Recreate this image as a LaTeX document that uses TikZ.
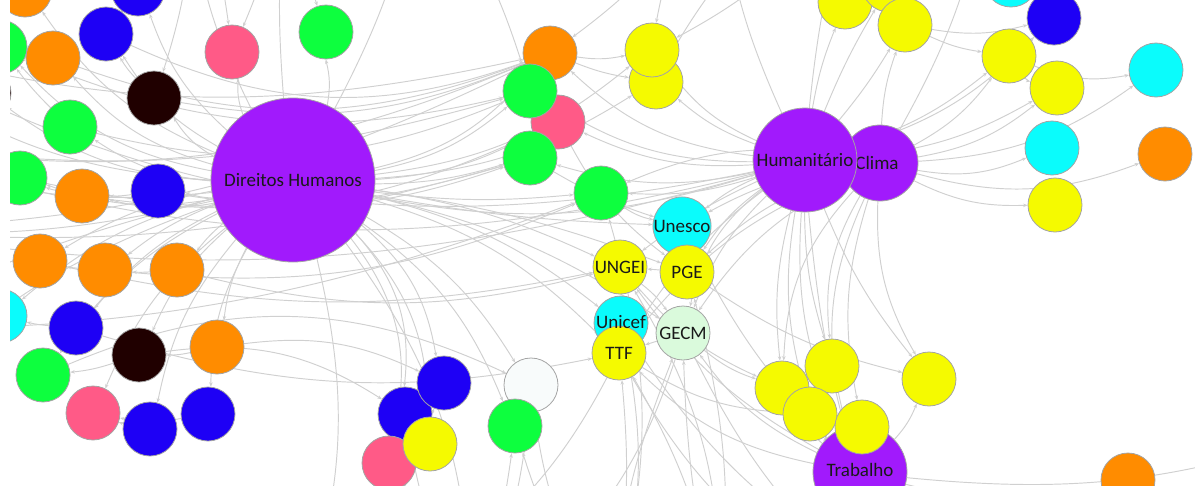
\documentclass[tikz,border=0pt]{standalone}
\usepackage{fontspec}
\setmainfont{Carlito}
\usetikzlibrary{arrows.meta,backgrounds}

\definecolor{hubpurple}{HTML}{A11AFC}
\definecolor{cOrange}{HTML}{FF8C00}
\definecolor{cGreen}{HTML}{0DFF3E}
\definecolor{cBlue}{HTML}{1E00F5}
\definecolor{cPink}{HTML}{FF5A87}
\definecolor{cBlack}{HTML}{200000}
\definecolor{cCyan}{HTML}{0AFCFC}
\definecolor{cYellow}{HTML}{F5FA00}
\definecolor{cMint}{HTML}{DAFADC}
\definecolor{cWhite}{HTML}{F8FBFB}
\definecolor{linkgray}{HTML}{D0D0D0}
\definecolor{rimgray}{HTML}{A4A4A4}

\tikzset{
  dot/.style={circle, draw=rimgray, line width=0.8pt, minimum size=54pt,
    inner sep=0pt, font=\fontsize{19}{19}\selectfont, text=black!90},
  hub/.style={dot, fill=hubpurple},
  link/.style={draw=linkgray, line width=0.95pt,
    -{Stealth[length=4.5pt,width=3.5pt]}},
}

\begin{document}
\begin{tikzpicture}[x=1pt,y=-1pt]
\useasboundingbox (0,0) rectangle (1195,485);

% ---------- nodes ----------
\begin{scope}
\clip (10,0) rectangle (1195,485);
% left group around Direitos Humanos
\node[dot, fill=cOrange] (n1) at (25,-10) {};
\node[dot, fill=cBlue]   (n2) at (138,-11) {};
\node[dot, fill=cGreen]  (n3) at (0,47) {};
\node[dot, fill=cOrange] (n4) at (53,58) {};
\node[dot, fill=cBlue]   (n5) at (106,34) {};
\node[dot, fill=cPink]   (n6) at (232,52) {};
\node[dot, fill=cGreen]  (n7) at (326,32) {};
\node[dot, fill=cBlack]  (n8) at (154,98) {};
\node[dot, fill=cBlack]  (n9) at (-16,93) {};
\node[dot, fill=cGreen]  (n10) at (70,127) {};
\node[dot, fill=cGreen]  (n11) at (20,178) {};
\node[dot, fill=cOrange] (n12) at (82,196) {};
\node[dot, fill=cBlue]   (n13) at (158,191) {};
\node[hub, minimum size=164pt] (DH) at (293,180) {Direitos Humanos};
\node[dot, fill=cOrange] (n15) at (40,261) {};
\node[dot, fill=cOrange] (n16) at (105,270) {};
\node[dot, fill=cOrange] (n17) at (177,270) {};
\node[dot, fill=cCyan]   (n18) at (0,316) {};
\node[dot, fill=cBlue]   (n19) at (76,328) {};
\node[dot, fill=cBlack]  (n20) at (139,355) {};
\node[dot, fill=cOrange] (n21) at (217,347) {};
\node[dot, fill=cGreen]  (n22) at (43,375) {};
\node[dot, fill=cPink]   (n23) at (93,413) {};
\node[dot, fill=cBlue]   (n24) at (150,429) {};
\node[dot, fill=cBlue]   (n25) at (208,414) {};
% middle group
\node[dot, fill=cOrange] (n26) at (550,53) {};
\node[dot, fill=cYellow] (n28) at (656,82) {};
\node[dot, fill=cYellow] (n27) at (652,50) {};
\node[dot, fill=cPink]   (n30) at (558,122) {};
\node[dot, fill=cGreen]  (n29) at (530,91) {};
\node[dot, fill=cGreen]  (n31) at (530,158) {};
\node[dot, fill=cGreen]  (n32) at (601,193) {};
\node[dot, fill=cCyan]   (UNESCO) at (682,226) {Unesco};
\node[dot, fill=cYellow] (PGE) at (687,272) {PGE};
\node[dot, fill=cYellow] (UNGEI) at (620,267) {UNGEI};
\node[dot, fill=cCyan]   (UNICEF) at (621,323) {};
\node[dot, fill=cYellow] (TTF) at (619,353) {TTF};
\node[font=\fontsize{19}{19}\selectfont, text=black!90, inner sep=0pt] (UNICEFlabel) at (621,322) {Unicef};
\node[dot, fill=cMint]   (GECM) at (683,333) {GECM};
% bottom middle
\node[dot, fill=cBlue]   (n42) at (405,414) {};
\node[dot, fill=cBlue]   (n41) at (444,383) {};
\node[dot, fill=cPink]   (n43) at (389,463) {};
\node[dot, fill=cYellow] (n44) at (430,444) {};
\node[dot, fill=cWhite]  (n45) at (531,385) {};
\node[dot, fill=cGreen]  (n46) at (515,426) {};
% right group
\node[hub, minimum size=76pt] (CLI) at (880,163) {\hspace*{-6pt}Clima};
\node[hub, minimum size=104pt] (HUM) at (805,160) {Humanitário};
\node[dot, fill=cYellow] (n47) at (845,2) {};
\node[dot, fill=cYellow] (n48) at (889,-15) {};
\node[dot, fill=cYellow] (n49) at (905,25) {};
\node[dot, fill=cCyan]   (n50) at (1011,-20) {};
\node[dot, fill=cBlue]   (n51) at (1054,18) {};
\node[dot, fill=cYellow] (n52) at (1009,56) {};
\node[dot, fill=cYellow] (n53) at (1057,88) {};
\node[dot, fill=cCyan]   (n54) at (1156,70) {};
\node[dot, fill=cCyan]   (n55) at (1052,148) {};
\node[dot, fill=cOrange] (n56) at (1165,154) {};
\node[dot, fill=cYellow] (n57) at (1055,205) {};
% bottom right
\node[dot, fill=cYellow] (n58) at (782,388) {};
\node[dot, fill=cYellow] (n59) at (832,366) {};
\node[dot, fill=cYellow] (n60) at (810,414) {};
\node[hub, minimum size=94pt] (TRA) at (860,472) {\raisebox{5pt}{Trabalho}};
\node[dot, fill=cYellow] (n61) at (862,427) {};
\node[dot, fill=cYellow] (n63) at (929,379) {};
\node[dot, fill=cOrange] (n64) at (1128,480) {};
\end{scope}

% points beyond the frame where outgoing links end
\coordinate (oL1) at (-140,40);
\coordinate (oL2) at (-140,140);
\coordinate (oL3) at (-140,230);
\coordinate (oL4) at (-140,330);
\coordinate (oL5) at (-140,440);
\coordinate (oT1) at (190,-130);
\coordinate (oT2) at (290,-130);
\coordinate (oT3) at (420,-130);
\coordinate (oT4) at (720,-130);
\coordinate (oT5) at (860,-130);
\coordinate (oT6) at (990,-130);
\coordinate (oB1) at (300,620);
\coordinate (oB2) at (470,620);
\coordinate (oB3) at (610,620);
\coordinate (oB4) at (720,620);
\coordinate (oB5) at (920,620);
\coordinate (oB6) at (1060,620);
\coordinate (oR1) at (1330,430);
\coordinate (oR2) at (1330,530);

% ---------- links ----------
\begin{pgfonlayer}{background}
\begin{scope}
\clip (10,0) rectangle (1195,485);
% Direitos Humanos to its neighbours
\foreach \t/\b in {n1/16,n2/14,n3/18,n4/16,n5/14,n6/12,n7/-12,n8/14,n9/16,
  n10/14,n11/14,n12/12,n13/8,n15/-10,n16/-8,n17/-6,n18/-12,n19/-12,n20/-12,
  n21/-10,n22/-14,n23/-14,n24/-14,n25/-14}
  \draw[link] (DH) to[bend left=\b] (\t);
\foreach \t/\b in {oT1/12,oT2/6,oT3/-8,oL1/18,oL2/14,oL3/8,oL4/-6,oL5/-14}
  \draw[link] (DH) to[bend left=\b] (\t);
\foreach \t/\b in {n26/-18,n29/-14,n30/-12,n31/-8,n32/-6,UNGEI/8,UNESCO/-4,
  PGE/6,GECM/10,TTF/14,UNICEF/12,HUM/-14,n27/-16,n28/-14}
  \draw[link] (DH) to[bend left=\b] (\t);
\foreach \t/\b in {n41/20,n42/24,n43/26,n44/22,n45/14,n46/16,oB1/16,oB2/18}
  \draw[link] (DH) to[bend left=\b] (\t);
% links among the left nodes
\foreach \s/\t/\b in {n17/n16/4,n16/n15/4,n19/n18/4,n20/n22/6,n21/n20/6,
  n25/n23/10,n8/n5/6,n13/n12/4,n12/n11/4,n10/n3/4,n24/n23/4}
  \draw[link] (\s) to[bend left=\b] (\t);
% long arcs from the left nodes to the middle group
\foreach \s/\t/\b in {n4/n26/-20,n10/n29/-18,n12/n30/-16,n13/n31/-14,
  n8/n26/-16,n17/UNGEI/-14,n16/n32/-14,n5/n26/-22,n3/n29/-18,n11/n31/-14,
  n15/UNGEI/-12,n19/TTF/-14,n21/n41/16,n20/n42/20,n22/n45/24}
  \draw[link] (\s) to[bend left=\b] (\t);
\foreach \s/\b in {oL1/-14,oL2/-16,oL3/-12}
  \draw[link] (\s) to[bend left=\b] (n26);
\draw[link] (oL2) to[bend left=-12] (n29);
\draw[link] (oL3) to[bend left=-10] (n31);
\draw[link] (oL4) to[bend left=-10] (n32);
\draw[link] (oL1) to[bend left=-8] (n1);
\draw[link] (oL1) to[bend left=-10] (n4);
\draw[link] (oT1) to[bend left=10] (n8);
\draw[link] (oT1) to[bend left=6] (n6);
\draw[link] (oT2) to[bend left=-6] (n7);
\draw[link] (oT2) to[bend left=6] (n6);
% middle group
\foreach \s/\t/\b in {n26/n27/-10,n26/n28/-6,PGE/UNGEI/0,GECM/TTF/0,
  n32/UNESCO/-10,UNGEI/GECM/8,n31/UNESCO/-6,n30/PGE/-12}
  \draw[link] (\s) to[bend left=\b] (\t);
\foreach \t/\b in {UNESCO/-8,PGE/-10,GECM/-12,n32/10,n30/14,n31/14,n28/10,
  n27/14,n29/16,n26/18,UNGEI/-6,TTF/-10,oL1/20,oL2/16,oL3/12}
  \draw[link] (HUM) to[bend left=\b] (\t);
\foreach \t/\b in {GECM/-14,PGE/-12,UNESCO/-10,n32/-16,TTF/-14}
  \draw[link] (CLI) to[bend left=\b] (\t);
\draw[link] (oT4) to[bend left=-12] (n27);
\draw[link] (oT4) to[bend left=12] (n26);
\draw[link] (oT5) to[bend left=-16] (n28);
\draw[link] (oT5) to[bend left=14] (n27);
\draw[link] (oT3) to[bend left=10] (n29);
% top right
\foreach \t/\b in {n47/6,n48/4,n49/-4,oT5/6,oT4/10,n52/-10,n53/-12,n51/-14}
  \draw[link] (HUM) to[bend left=\b] (\t);
\foreach \t/\b in {n49/8,n52/-12,n53/-14,n55/-16,n56/-18,n57/-14,n54/-16,oT6/-10}
  \draw[link] (CLI) to[bend left=\b] (\t);
\foreach \s/\t/\b in {n52/n53/-20,n52/n54/-16,n49/n51/-12,oT6/n51/14,
  n49/n52/-8,oT6/n50/8}
  \draw[link] (\s) to[bend left=\b] (\t);
% towards the bottom
\foreach \s/\t/\b in {oB3/TTF/-8,oB3/UNICEF/-14,oB4/GECM/6,oB4/TTF/-10,
  oB2/n45/-10,oB2/n46/-6,oB3/n46/10,oB1/n41/-10,oB1/n44/-6,oB3/n32/-16,
  oB4/UNGEI/-16,oB2/n42/8,oB3/n45/12,oB4/PGE/-10,oB3/GECM/8}
  \draw[link] (\s) to[bend left=\b] (\t);
\foreach \t/\b in {n58/-10,n59/-8,n60/-12,TRA/-14,n63/-8,GECM/-20,oB5/-10}
  \draw[link] (HUM) to[bend left=\b] (\t);
\foreach \t/\b in {n61/-14,n63/-16,n59/-18,TRA/-20,n58/-20}
  \draw[link] (CLI) to[bend left=\b] (\t);
\foreach \t/\b in {n64/-20,oR1/-12,oR2/-8,oB5/-6,oB6/-10,n63/-10,
  oB2/20,oB3/14,oB4/10,oL5/24,GECM/14,TTF/16,UNGEI/12,UNESCO/8,n58/10,n60/6}
  \draw[link] (TRA) to[bend left=\b] (\t);
\foreach \s/\t/\b in {GECM/n58/-10,TTF/n60/-14,UNGEI/n58/-12,GECM/oB5/-14,
  TTF/oB5/-20,UNICEF/oB6/-24,PGE/n63/-10,GECM/oB2/20,TTF/oB1/24}
  \draw[link] (\s) to[bend left=\b] (\t);
\end{scope}
\end{pgfonlayer}
\end{tikzpicture}
\end{document}
